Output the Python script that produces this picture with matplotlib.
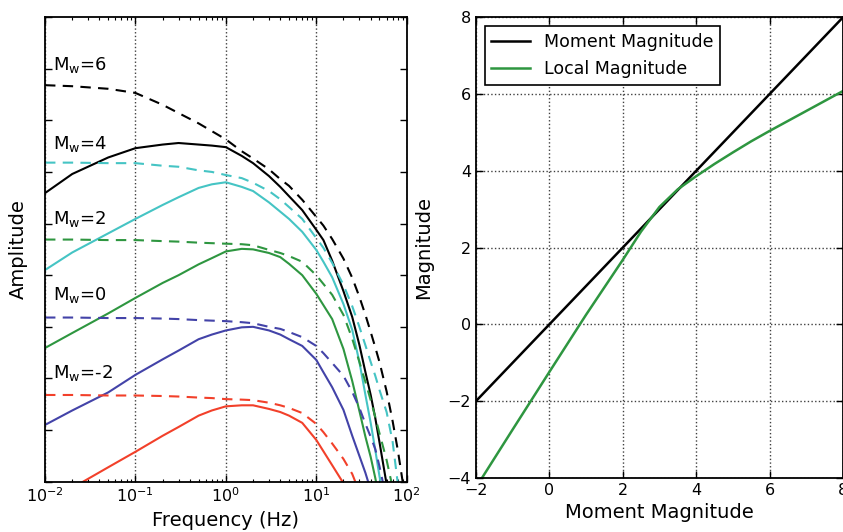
import numpy as np
import matplotlib
matplotlib.use("Agg")
import matplotlib.pyplot as plt

nan = np.nan

# frequency samples (Hz) used for every spectrum in the left panel
freq = [0.01, 0.02, 0.05, 0.1, 0.2, 0.3, 0.5, 0.7, 1, 1.5,
        2, 3, 4, 5, 7, 10, 12, 15, 20, 25,
        30, 35, 40, 45, 50, 60, 70, 80, 90, 100]

# log10 amplitude, source spectra (dashed)
src_mw6 = [7.68, 7.66, 7.61, 7.53, 7.30, 7.14, 6.94, 6.79, 6.63, 6.40,
           6.26, 6.05, 5.86, 5.73, 5.46, 5.13, 4.96, 4.70, 4.32, 3.95,
           3.58, 3.23, 2.90, 2.60, 2.32, 1.75, 1.17, 0.60, 0.02, -0.55]
src_mw4 = [6.18, 6.18, 6.17, 6.17, 6.12, 6.10, 6.03, 6.00, 5.94, 5.88,
           5.79, 5.63, 5.47, 5.32, 5.09, 4.72, 4.53, 4.24, 3.81, 3.40,
           3.00, 2.64, 2.32, 2.05, 1.78, 1.35, 0.77, -0.05, nan, nan]
src_mw2 = [4.69, 4.69, 4.68, 4.68, 4.66, 4.65, 4.63, 4.62, 4.61, 4.60,
           4.58, 4.49, 4.43, 4.37, 4.26, 4.00, 3.83, 3.62, 3.23, 2.77,
           2.32, 1.93, 1.58, 1.25, 0.94, 0.42, -0.12, nan, nan, nan]
src_mw0 = [3.18, 3.18, 3.17, 3.17, 3.16, 3.15, 3.13, 3.12, 3.11, 3.09,
           3.07, 3.00, 2.96, 2.90, 2.80, 2.63, 2.49, 2.30, 2.05, 1.74,
           1.43, 1.12, 0.87, 0.63, 0.30, -0.35, nan, nan, nan, nan]
src_mwm2 = [1.68, 1.68, 1.67, 1.67, 1.66, 1.65, 1.63, 1.62, 1.60, 1.59,
            1.58, 1.53, 1.48, 1.43, 1.33, 1.12, 0.96, 0.74, 0.44, 0.15,
            -0.20, nan, nan, nan, nan, nan, nan, nan, nan, nan]

# log10 amplitude, recorded spectra (solid)
obs_mw6 = [5.59, 5.96, 6.28, 6.46, 6.53, 6.56, 6.53, 6.51, 6.48, 6.31,
           6.17, 5.92, 5.71, 5.53, 5.26, 4.88, 4.68, 4.28, 3.69, 3.19,
           2.65, 2.12, 1.68, 1.23, 0.77, -0.05, nan, nan, nan, nan]
obs_mw4 = [4.10, 4.44, 4.81, 5.09, 5.36, 5.51, 5.69, 5.76, 5.80, 5.71,
           5.63, 5.41, 5.23, 5.09, 4.84, 4.49, 4.26, 3.96, 3.44, 2.94,
           2.32, 1.68, 1.14, 0.61, 0.11, -0.65, nan, nan, nan, nan]
obs_mw2 = [2.59, 2.88, 3.26, 3.56, 3.85, 4.00, 4.21, 4.33, 4.46, 4.51,
           4.50, 4.43, 4.35, 4.22, 4.00, 3.64, 3.42, 3.15, 2.57, 1.95,
           1.37, 0.87, 0.48, 0.07, -0.35, nan, nan, nan, nan, nan]
obs_mw0 = [1.10, 1.38, 1.73, 2.07, 2.37, 2.54, 2.76, 2.85, 2.93, 2.99,
           3.00, 2.93, 2.85, 2.76, 2.63, 2.36, 2.12, 1.83, 1.39, 0.89,
           0.50, 0.17, -0.16, nan, nan, nan, nan, nan, nan, nan]
obs_mwm2 = [-0.43, -0.12, 0.28, 0.58, 0.89, 1.06, 1.28, 1.38, 1.46, 1.48,
            1.48, 1.41, 1.35, 1.28, 1.14, 0.81, 0.59, 0.32, -0.03, -0.35,
            nan, nan, nan, nan, nan, nan, nan, nan, nan, nan]

mw_labels = ["M$_\\mathregular{w}$=6", "M$_\\mathregular{w}$=4", "M$_\\mathregular{w}$=2",
             "M$_\\mathregular{w}$=0", "M$_\\mathregular{w}$=-2"]

# right panel
mw = [-2, -1, 0, 1, 2, 2.5, 3, 3.5, 4, 4.5, 5, 5.5, 6, 6.5, 7, 7.5, 8]
ml = [-4.25, -2.74, -1.24, 0.25, 1.68, 2.42, 3.06, 3.52, 3.86, 4.18, 4.48, 4.77, 5.04,
      5.30, 5.56, 5.82, 6.08]

colors = ["#000000", "#45c4c4", "#2e9640", "#4343a8", "#f2402a"]
label_y = [0.886, 0.717, 0.555, 0.391, 0.223]

plt.rcParams['font.family'] = 'DejaVu Sans'
plt.rcParams['mathtext.default'] = 'regular'

fig = plt.figure(figsize=(8.43, 5.32), dpi=100)
ax1 = fig.add_axes([0.0534, 0.0945, 0.429, 0.8735])
ax2 = fig.add_axes([0.5645, 0.1015, 0.4355, 0.866])

f = np.array(freq)
srcs = [src_mw6, src_mw4, src_mw2, src_mw0, src_mwm2]
obss = [obs_mw6, obs_mw4, obs_mw2, obs_mw0, obs_mwm2]
for s, o, c in zip(srcs, obss, colors):
    ax1.plot(f, np.power(10.0, s), color=c, lw=1.5, dashes=(5, 3.5))
    ax1.plot(f, np.power(10.0, o), color=c, lw=1.5)

for lab, y in zip(mw_labels, label_y):
    ax1.text(0.022, y, lab, transform=ax1.transAxes, fontsize=13, va='baseline')

ax1.set_xscale('log')
ax1.set_yscale('log')
ax1.set_xlim(1e-2, 1e2)
ax1.set_ylim(1e0, 1e9)
ax1.yaxis.set_major_locator(matplotlib.ticker.LogLocator(base=10, numticks=20))
ax1.yaxis.set_minor_locator(matplotlib.ticker.NullLocator())
ax1.tick_params(axis='y', which='both', labelleft=False)
ax1.grid(True, axis='x', which='major', color='0.25', ls=':', lw=1)
ax1.set_xlabel("Frequency (Hz)", fontsize=14)
ax1.set_ylabel("Amplitude", fontsize=14)
ax1.yaxis.set_label_coords(-0.047, 0.5)

ax2.plot(mw, mw, color='k', lw=1.8, label="Moment Magnitude")
ax2.plot(mw, ml, color="#2e9640", lw=1.8, label="Local Magnitude")
ax2.set_xlim(-2, 8)
ax2.set_ylim(-4, 8)
ax2.set_xticks([-2, 0, 2, 4, 6, 8])
ax2.set_yticks([-4, -2, 0, 2, 4, 6, 8])
ax2.grid(True, color='0.25', ls=':', lw=1)
ax2.set_xlabel("Moment Magnitude", fontsize=14)
ax2.set_ylabel("Magnitude", fontsize=14)
ax2.yaxis.set_label_coords(-0.117, 0.5)
leg = ax2.legend(loc='upper left', fontsize=12.5, fancybox=False, framealpha=1,
                 edgecolor='k', borderaxespad=0.5, handlelength=2.2)
leg.get_frame().set_linewidth(1.2)

for ax in (ax1, ax2):
    ax.tick_params(which='both', direction='in', top=True, right=True, labelsize=11.5)
    ax.tick_params(which='major', length=5, width=1)
    ax.tick_params(which='minor', length=2.5, width=0.8)
    for sp in ax.spines.values():
        sp.set_linewidth(1.3)

fig.savefig("out.png", dpi=100)
